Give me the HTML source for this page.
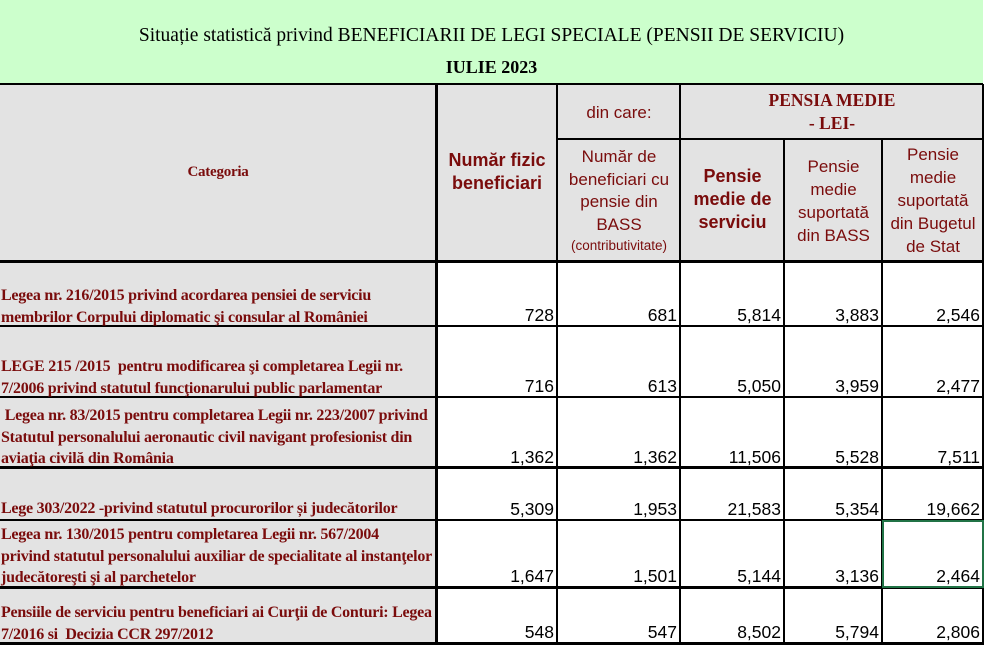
<!DOCTYPE html>
<html><head><meta charset="utf-8"><style>
*{margin:0;padding:0;box-sizing:border-box}
body{width:989px;height:645px;background:#fff;position:relative;overflow:hidden;font-family:"Liberation Sans",sans-serif}
.a{position:absolute}
.h{background:#000}
.cat{position:absolute;left:1px;width:436px;font-family:"Liberation Serif",serif;font-weight:bold;font-size:16px;color:#7a0c0c;line-height:21.5px;letter-spacing:-0.25px;white-space:nowrap}
.n{position:absolute;font-size:17.5px;color:#000;text-align:right;line-height:20px}
.hd{position:absolute;color:#7a0c0c;text-align:center;font-size:17px;line-height:23px}
</style></head><body>
<div class="a" style="left:0;top:0;width:983px;height:84px;background:#ccffcc"></div>
<div class="a" style="left:0;top:25px;width:983px;text-align:center;font-family:'Liberation Serif',serif;font-size:19.5px;color:#000">Situație statistică privind BENEFICIARII DE LEGI SPECIALE (PENSII DE SERVICIU)</div>
<div class="a" style="left:0;top:57px;width:983px;text-align:center;font-family:'Liberation Serif',serif;font-size:18px;font-weight:bold;color:#000">IULIE 2023</div>
<div class="a" style="left:0;top:84px;width:983px;height:177px;background:#e3e3e3"></div>
<div class="a" style="left:0;top:261px;width:436px;height:384px;background:#e3e3e3"></div>
<div class="a h" style="left:0;top:83px;width:983px;height:2px"></div>
<div class="a h" style="left:557px;top:138px;width:426px;height:2px"></div>
<div class="a h" style="left:0;top:260px;width:983px;height:3px"></div>
<div class="a h" style="left:0;top:325px;width:983px;height:2px"></div>
<div class="a h" style="left:0;top:396px;width:983px;height:2px"></div>
<div class="a h" style="left:0;top:466px;width:983px;height:3px"></div>
<div class="a h" style="left:0;top:519px;width:983px;height:2px"></div>
<div class="a h" style="left:0;top:586px;width:983px;height:3px"></div>
<div class="a h" style="left:0;top:642px;width:983px;height:3px"></div>
<div class="a h" style="left:435px;top:84px;width:3px;height:561px"></div>
<div class="a h" style="left:556px;top:84px;width:2px;height:561px"></div>
<div class="a h" style="left:679px;top:84px;width:2px;height:561px"></div>
<div class="a h" style="left:783px;top:139px;width:2px;height:506px"></div>
<div class="a h" style="left:881px;top:139px;width:2px;height:506px"></div>
<div class="a h" style="left:982px;top:84px;width:2px;height:561px"></div>
<div class="a" style="left:882px;top:520px;width:102px;height:68px;border:2px solid #217346"></div>
<div class="cat" style="top:162px;width:434px;text-align:center;font-size:15px">Categoria</div>
<div class="hd" style="left:437px;top:149px;width:120px;font-weight:bold;font-size:18px">Număr fizic<br>beneficiari</div>
<div class="hd" style="left:558px;top:101px;width:122px">din care:</div>
<div class="hd" style="left:558px;top:146px;width:122px;line-height:22.5px">Număr de<br>beneficiari cu<br>pensie din<br>BASS<br><span style="font-size:13.5px;line-height:19px;display:block">(contributivitate)</span></div>
<div class="hd" style="left:681px;top:89px;width:302px;font-family:'Liberation Serif',serif;font-weight:bold;font-size:17.5px;line-height:23px">PENSIA MEDIE<br>- LEI-</div>
<div class="hd" style="left:681px;top:165px;width:103px;font-weight:bold;font-size:18px">Pensie<br>medie de<br>serviciu</div>
<div class="hd" style="left:785px;top:155px;width:97px">Pensie<br>medie<br>suportată<br>din BASS</div>
<div class="hd" style="left:883px;top:143px;width:100px">Pensie<br>medie<br>suportată<br>din Bugetul<br>de Stat</div>
<div class="cat" style="top:285px">Legea nr. 216/2015 privind acordarea pensiei de serviciu<br>membrilor Corpului diplomatic şi consular al României</div>
<div class="cat" style="top:356px">LEGE 215 /2015&nbsp; pentru modificarea şi completarea Legii nr.<br>7/2006 privind statutul funcţionarului public parlamentar</div>
<div class="cat" style="top:405px">&nbsp;Legea nr. 83/2015 pentru completarea Legii nr. 223/2007 privind<br>Statutul personalului aeronautic civil navigant profesionist din<br>aviaţia civilă din România</div>
<div class="cat" style="top:498px">Lege 303/2022 -privind statutul procurorilor și judecătorilor</div>
<div class="cat" style="top:524px">Legea nr. 130/2015 pentru completarea Legii nr. 567/2004<br>privind statutul personalului auxiliar de specialitate al instanţelor<br>judecătoreşti şi al parchetelor</div>
<div class="cat" style="top:602px">Pensiile de serviciu pentru beneficiari ai Curţii de Conturi: Legea<br>7/2016 si&nbsp; Decizia CCR 297/2012</div>
<div class="n" style="left:437px;width:117px;top:305px">728</div>
<div class="n" style="left:558px;width:119px;top:305px">681</div>
<div class="n" style="left:681px;width:100px;top:305px">5,814</div>
<div class="n" style="left:785px;width:94px;top:305px">3,883</div>
<div class="n" style="left:883px;width:97px;top:305px">2,546</div>
<div class="n" style="left:437px;width:117px;top:376px">716</div>
<div class="n" style="left:558px;width:119px;top:376px">613</div>
<div class="n" style="left:681px;width:100px;top:376px">5,050</div>
<div class="n" style="left:785px;width:94px;top:376px">3,959</div>
<div class="n" style="left:883px;width:97px;top:376px">2,477</div>
<div class="n" style="left:437px;width:117px;top:447px">1,362</div>
<div class="n" style="left:558px;width:119px;top:447px">1,362</div>
<div class="n" style="left:681px;width:100px;top:447px">11,506</div>
<div class="n" style="left:785px;width:94px;top:447px">5,528</div>
<div class="n" style="left:883px;width:97px;top:447px">7,511</div>
<div class="n" style="left:437px;width:117px;top:499px">5,309</div>
<div class="n" style="left:558px;width:119px;top:499px">1,953</div>
<div class="n" style="left:681px;width:100px;top:499px">21,583</div>
<div class="n" style="left:785px;width:94px;top:499px">5,354</div>
<div class="n" style="left:883px;width:97px;top:499px">19,662</div>
<div class="n" style="left:437px;width:117px;top:566px">1,647</div>
<div class="n" style="left:558px;width:119px;top:566px">1,501</div>
<div class="n" style="left:681px;width:100px;top:566px">5,144</div>
<div class="n" style="left:785px;width:94px;top:566px">3,136</div>
<div class="n" style="left:883px;width:97px;top:566px">2,464</div>
<div class="n" style="left:437px;width:117px;top:622px">548</div>
<div class="n" style="left:558px;width:119px;top:622px">547</div>
<div class="n" style="left:681px;width:100px;top:622px">8,502</div>
<div class="n" style="left:785px;width:94px;top:622px">5,794</div>
<div class="n" style="left:883px;width:97px;top:622px">2,806</div>
</body></html>
